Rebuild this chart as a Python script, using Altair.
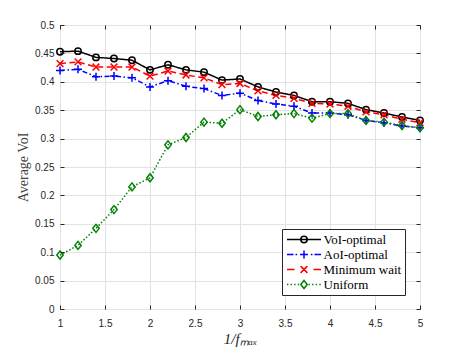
import altair as alt
import pandas as pd

# ---- data ----
x_vals = [1.0, 1.2, 1.4, 1.6, 1.8, 2.0, 2.2, 2.4, 2.6, 2.8, 3.0,
          3.2, 3.4, 3.6, 3.8, 4.0, 4.2, 4.4, 4.6, 4.8, 5.0]
voi_optimal = [0.453, 0.454, 0.443, 0.441, 0.438, 0.421, 0.430, 0.421, 0.417, 0.403, 0.405,
               0.391, 0.382, 0.376, 0.365, 0.365, 0.362, 0.351, 0.345, 0.338, 0.332]
aoi_optimal = [0.420, 0.422, 0.409, 0.410, 0.407, 0.391, 0.402, 0.392, 0.388, 0.376, 0.380,
               0.367, 0.361, 0.357, 0.345, 0.345, 0.342, 0.332, 0.328, 0.322, 0.319]
minimum_wait = [0.432, 0.435, 0.426, 0.426, 0.426, 0.410, 0.419, 0.412, 0.407, 0.395, 0.397,
                0.384, 0.376, 0.371, 0.362, 0.361, 0.357, 0.347, 0.342, 0.334, 0.328]
uniform = [0.095, 0.112, 0.142, 0.175, 0.215, 0.231, 0.289, 0.302, 0.329, 0.327, 0.351,
           0.339, 0.342, 0.344, 0.336, 0.344, 0.344, 0.332, 0.329, 0.323, 0.319]

series_names = ["VoI-optimal", "AoI-optimal", "Minimum wait", "Uniform"]
series_values = [voi_optimal, aoi_optimal, minimum_wait, uniform]
x_ticks = [1, 1.5, 2, 2.5, 3, 3.5, 4, 4.5, 5]
y_ticks = [0, 0.05, 0.1, 0.15, 0.2, 0.25, 0.3, 0.35, 0.4, 0.45, 0.5]

rows = []
for name, vals in zip(series_names, series_values):
    for xv, yv in zip(x_vals, vals):
        rows.append({"x": xv, "y": yv, "series": name})
df = pd.DataFrame(rows)

# ---- styles ----
colors = ["#000000", "#0000FF", "#FF0000", "#008000"]
dashes = [[1, 0], [5, 2.5, 1.5, 2.5], [6, 3.5], [1.5, 2]]

marker_paths = [
    "M0.8,0A0.8,0.8,0,1,1,-0.8,0A0.8,0.8,0,1,1,0.8,0Z",
    "M-1,0L1,0M0,-1L0,1",
    "M-0.85,-0.85L0.85,0.85M-0.85,0.85L0.85,-0.85",
    "M0,-1L0.8,0L0,1L-0.8,0Z",
]

# legend symbol: unit = 6.5 px (symbolSize 169), half width 17 px
U = 6.5


def u(px):
    return px / U


def seg(a, b):
    return "M%.3f,0L%.3f,0" % (u(a), u(b))


def dotted(a, b, step=3.6, length=1.4):
    out = ""
    p = a
    while p + length <= b + 1e-9:
        out += seg(p, p + length)
        p += step
    return out


r = u(3.2)
legend_paths = [
    seg(-17, 17) + "M%.3f,0A%.3f,%.3f,0,1,1,%.3f,0A%.3f,%.3f,0,1,1,%.3f,0Z" % (r, r, r, -r, r, r, r),
    seg(-17, -10.5) + seg(-8.5, -6.8) + seg(-4, 4) + seg(6.8, 8.5) + seg(10.5, 17)
    + "M0,%.3fL0,%.3f" % (u(-4), u(4)),
    seg(-17, -9.5) + seg(9.5, 17)
    + "M{a},{a}L{b},{b}M{a},{b}L{b},{a}".format(a="%.3f" % u(-3.4), b="%.3f" % u(3.4)),
    dotted(-17, -4.5) + dotted(4.5, 17)
    + "M0,{t}L{w},0L0,{b}L{mw},0Z".format(t="%.3f" % u(-4), w="%.3f" % u(3.2),
                                         b="%.3f" % u(4), mw="%.3f" % u(-3.2)),
]

W, H = 360, 284
x_scale = alt.Scale(domain=[1, 5], nice=False, zero=False)
y_scale = alt.Scale(domain=[0, 0.5], nice=False, zero=False)
color_scale = alt.Scale(domain=series_names, range=colors)

lab_font = "Liberation Sans"
title_font = "Liberation Serif"
ax_col = "#262626"

main_x_axis = alt.Axis(values=x_ticks, format="~g", title="1/fₘₐₓ", grid=True,
                       gridColor="#e2e2e2", ticks=False, tickSize=0, domain=False,
                       labelPadding=9, labelFont=lab_font, labelFontSize=10,
                       labelColor=ax_col, titleFont=title_font, titleFontSize=15,
                       titleFontStyle="italic", titleFontWeight="normal", titleColor=ax_col,
                       titleBaseline="alphabetic", titleY=34, labelFlush=False)
main_y_axis = alt.Axis(values=y_ticks, format="~g", title="Average VoI", grid=True,
                       gridColor="#e2e2e2", ticks=False, tickSize=0, domain=False,
                       labelPadding=6, labelFont=lab_font, labelFontSize=10,
                       labelColor=ax_col, titleFont=title_font, titleFontSize=14,
                       titleFontWeight="normal", titleColor="#404040", titlePadding=4,
                       labelFlush=False)


def tick_axis(orient, offset, vals):
    return alt.Axis(orient=orient, offset=offset, values=vals, labels=False, title=None,
                    grid=False, domain=False, ticks=True, tickSize=4, tickColor=ax_col,
                    tickWidth=1, zindex=1)


lines = alt.Chart(df).mark_line(strokeWidth=1.5).encode(
    x=alt.X("x:Q", scale=x_scale, axis=main_x_axis),
    y=alt.Y("y:Q", scale=y_scale, axis=main_y_axis),
    color=alt.Color("series:N", scale=color_scale, legend=None),
    strokeDash=alt.StrokeDash("series:N", scale=alt.Scale(domain=series_names, range=dashes),
                              legend=None),
)

points = alt.Chart(df).mark_point(filled=False, opacity=1, strokeWidth=1.5, size=64).encode(
    x=alt.X("x:Q", scale=x_scale, axis=tick_axis("top", -H, x_ticks)),
    y=alt.Y("y:Q", scale=y_scale, axis=tick_axis("right", -W, y_ticks)),
    color=alt.Color("series:N", scale=color_scale, legend=None),
    shape=alt.Shape("series:N", scale=alt.Scale(domain=series_names, range=marker_paths),
                    legend=None),
)

legend_layer = alt.Chart(df).mark_point(filled=False, opacity=0, strokeWidth=1.5).encode(
    x=alt.X("x:Q", scale=x_scale, axis=tick_axis("bottom", -H, x_ticks)),
    y=alt.Y("y:Q", scale=y_scale, axis=tick_axis("left", -W, y_ticks)),
    color=alt.Color("series:N", scale=color_scale, legend=alt.Legend(title=None)),
    shape=alt.Shape("series:N", scale=alt.Scale(domain=series_names, range=legend_paths),
                    legend=alt.Legend(title=None)),
)

chart = alt.layer(lines, points, legend_layer).resolve_scale(
    color="independent", shape="independent", strokeDash="independent"
).resolve_axis(
    x="independent", y="independent"
).properties(
    width=W, height=H,
    autosize=alt.AutoSizeParams(type="none"),
    padding={"left": 52, "top": 17, "right": 20, "bottom": 38},
    background="white",
).configure_view(
    stroke=ax_col, strokeWidth=1
).configure_legend(
    orient="none", legendX=222, legendY=204,
    strokeColor=ax_col, strokeWidth=1, fillColor="white", padding=3, cornerRadius=0,
    labelFont=title_font, labelFontSize=13, labelColor="#000000", labelOffset=12,
    symbolSize=169, symbolOffset=11.5, symbolStrokeWidth=1.5, symbolOpacity=1,
    rowPadding=0, symbolFillColor="transparent",
)

chart.save("out.html", embed_options={"renderer": "svg", "actions": False})
